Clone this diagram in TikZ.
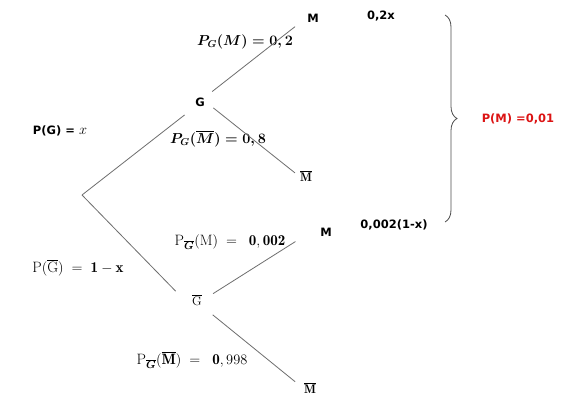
\documentclass[tikz,border=0pt]{standalone}
\usepackage{amsmath,bm}
\usepackage{fontspec}
\setsansfont{DejaVu Sans}
\usetikzlibrary{decorations.pathreplacing}
\definecolor{linegray}{RGB}{110,110,110}
\definecolor{resred}{RGB}{220,20,20}
\begin{document}
\begin{tikzpicture}[x=1pt,y=-1pt,
  lbl/.style={font=\sffamily\bfseries\fontsize{11.5}{14}\selectfont, inner sep=1pt},
  leaf/.style={font=\fontsize{12.5}{15}\selectfont, inner sep=1pt},
  mth/.style={font=\fontsize{15}{18}\selectfont, inner sep=1pt},
  bmth/.style={font=\fontsize{14.5}{17}\selectfont\boldmath, inner sep=1pt},
  branch/.style={draw=linegray, line width=0.8pt}]
\useasboundingbox (0,0) rectangle (584,409);
\fill[white] (0,0) rectangle (584,409);
% nodes
\coordinate (root) at (82,195);
\node[lbl] (G) at (200,102) {G};
\node[leaf] (Gb) at (197,300) {$\overline{\mathrm{G}}$};
\node[lbl] (M1) at (313,18) {M};
\node[leaf] (Mb1) at (306,176) {$\overline{\mathbf{M}}$};
\node[lbl] (M2) at (326,232) {M};
\node[leaf] (Mb2) at (310,388) {$\overline{\mathbf{M}}$};
% results
\node[lbl] (r1) at (381,16) {0,2x};
\node[lbl] (r2) at (394,225) {0,002(1-x)};
\node[lbl, text=resred] (PM) at (518,119) {P(M) =0,01};
% branch labels
\node[lbl] (lG) at (60,131) {P(G) = {\normalfont\fontsize{14}{16}\selectfont$x$}};
\node[mth] (lGb) at (78,268) {$\mathrm{P}(\overline{\mathrm{G}})\;=\;\mathbf{1-x}$};
\node[bmth] (lM1) at (245,42) {$P_G(M)=0,2$};
\node[bmth] (lMb1) at (218,139) {$P_G(\overline{M})=0,8$};
\node[mth] (lM2) at (230,242) {$\mathrm{P}_{\overline{\bm{G}}}(\mathrm{M})\;=\;\;\mathbf{0,002}$};
\node[mth] (lMb2) at (192,360) {$\mathrm{P}_{\overline{\bm{G}}}(\overline{\mathbf{M}})\;=\;\;\mathbf{0},998$};
% branches
\draw[branch, shorten >=12pt] (root) -- (G.south west);
\draw[branch, shorten >=22pt] (root) -- (Gb.south west);
\draw[branch, shorten <=8pt, shorten >=14pt] (G.north east) -- (M1.west);
\draw[branch, shorten <=9.5pt, shorten >=5pt] (G.east) -- (Mb1.west);
\draw[branch, shorten <=12pt, shorten >=28pt] (Gb.east) -- (M2.north west);
\draw[branch, shorten <=12.5pt, shorten >=10pt] (Gb.south east) -- (Mb2.west);
% brace
\coordinate (bt) at (445,15);
\coordinate (bb) at (445,222);
\draw[linegray!70!black, line width=0.8pt, decorate, decoration={brace, amplitude=12pt}] (bt) -- (bb);
\end{tikzpicture}
\end{document}
